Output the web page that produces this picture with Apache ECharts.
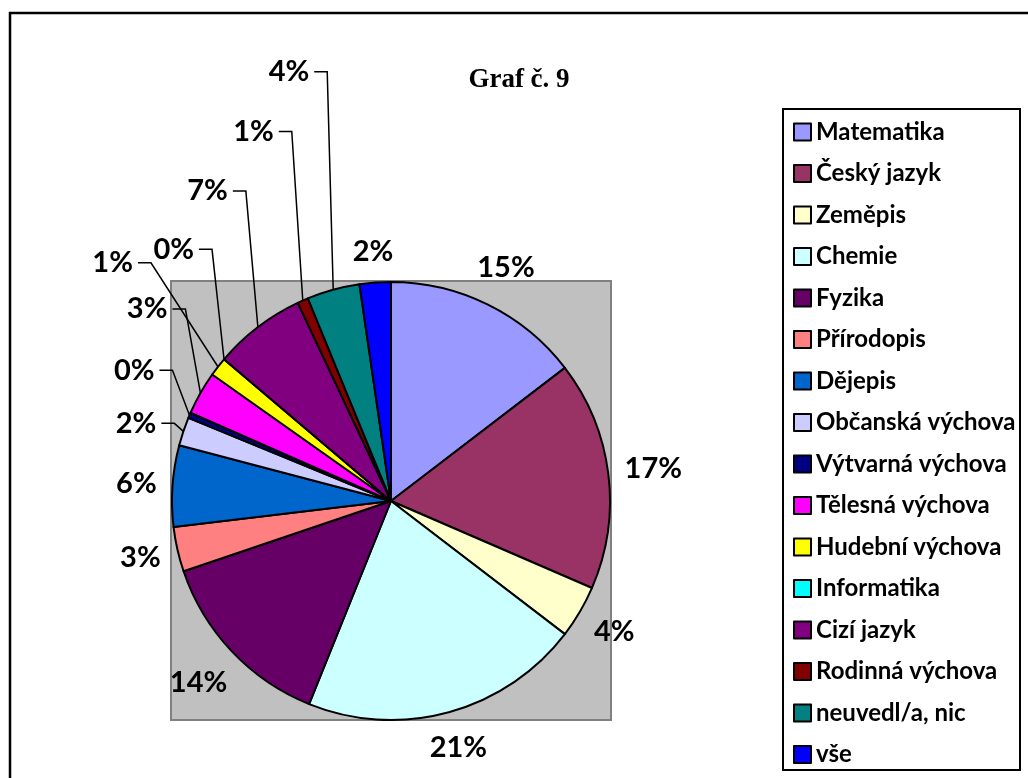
<!DOCTYPE html>
<html>
<head>
<meta charset="utf-8">
<script src="https://cdn.jsdelivr.net/npm/echarts@6/dist/echarts.min.js"></script>
<style>
  html, body { margin: 0; padding: 0; background: #fff; }
  #chart { width: 1028px; height: 778px; }
</style>
</head>
<body>
<div id="chart"></div>
<script>
// data (shares in %)
var subjects = ['Matematika', 'Český jazyk', 'Zeměpis', 'Chemie', 'Fyzika', 'Přírodopis', 'Dějepis',
  'Občanská výchova', 'Výtvarná výchova', 'Tělesná výchova', 'Hudební výchova', 'Informatika',
  'Cizí jazyk', 'Rodinná výchova', 'neuvedl/a, nic', 'vše'];
var shares = [14.6, 16.9, 3.9, 20.7, 13.7, 3.3, 6.0, 2.1, 0.4, 3.2, 1.4, 0, 6.8, 0.8, 3.9, 2.3];
var colors = ['#9999FF', '#993366', '#FFFFCC', '#CCFFFF', '#660066', '#FF8080', '#0066CC',
  '#CCCCFF', '#000080', '#FF00FF', '#FFFF00', '#00FFFF', '#800080', '#800000', '#008080', '#0000FF'];

// callout labels: elbow shift in x from the slice edge, lift above it
var callouts = {
  'neuvedl/a, nic': [-6, 218],
  'Rodinná výchova': [-11, 169],
  'Cizí jazyk': [-12, 136],
  'Informatika': [-12, 110],
  'Hudební výchova': [-67, 104],
  'Tělesná výchova': [-15, 84],
  'Výtvarná výchova': [-17, 45],
  'Občanská výchova': [-9, 8]
};

var CX = 391, CY = 501, R = 219;

var chart = echarts.init(document.getElementById('chart'));

chart.setOption({
  animation: false,
  backgroundColor: '#fff',
  color: colors,
  graphic: [
    { type: 'rect', z: -10, shape: { x: 10, y: 13, width: 1030, height: 780 },
      style: { fill: '#fff', stroke: '#000', lineWidth: 2.5 } },
    { type: 'rect', z: -5, shape: { x: 171, y: 281, width: 440, height: 439 },
      style: { fill: '#C0C0C0', stroke: '#808080', lineWidth: 2 } },
    { type: 'rect', z: -5, shape: { x: 783, y: 109, width: 237, height: 661 },
      style: { fill: '#fff', stroke: '#000', lineWidth: 2 } },
    { type: 'text', x: 519, y: 80,
      style: { text: 'Graf č. 9', textAlign: 'center', textVerticalAlign: 'middle',
        font: 'bold 27px "Liberation Serif"', fill: '#000' } }
  ],
  legend: {
    orient: 'vertical',
    left: 793,
    top: 120,
    padding: 0,
    itemWidth: 17,
    itemHeight: 17,
    itemGap: 17.5,
    selectedMode: false,
    icon: 'rect',
    data: subjects,
    textStyle: { fontFamily: 'Lato', fontWeight: 'bold', fontSize: 24, lineHeight: 24, color: '#000' }
  },
  series: [{
    type: 'pie',
    center: [CX, CY],
    radius: R,
    startAngle: 90,
    clockwise: true,
    avoidLabelOverlap: false,
    itemStyle: { borderColor: '#000', borderWidth: 2 },
    emphasis: { disabled: true },
    label: {
      show: true,
      position: 'outside',
      fontFamily: 'Lato',
      fontWeight: 'bold',
      fontSize: 29,
      lineHeight: 29,
      color: '#000',
      formatter: function (p) { return Math.round(p.percent) + '%'; }
    },
    labelLine: { show: true, length: 10, length2: 10, lineStyle: { color: '#000', width: 1.5 } },
    labelLayout: function (p) {
      var pts = p.labelLinePoints;
      if (!pts) return {};
      var a = [pts[0][0], pts[0][1]];
      var c = callouts[subjects[p.dataIndex]];
      if (c) {
        var ex = a[0] + c[0], ey = a[1] - c[1];
        return {
          x: ex - 18, y: ey, align: 'right', verticalAlign: 'middle',
          labelLinePoints: [a, [ex, ey], [ex - 13, ey]]
        };
      }
      var dx = a[0] - CX, dy = a[1] - CY, r = Math.sqrt(dx * dx + dy * dy);
      var ux = dx / r, uy = dy / r;
      var w = p.labelRect.width, h = p.labelRect.height;
      var d = r + 15 + Math.abs(ux) * w / 2 + Math.abs(uy) * h / 2;
      return {
        x: CX + ux * d, y: CY + uy * d, align: 'center', verticalAlign: 'middle',
        labelLinePoints: [a, a.slice(), a.slice()]
      };
    },
    data: subjects.map(function (s, i) { return { name: s, value: shares[i] }; })
  }]
});
</script>
</body>
</html>
